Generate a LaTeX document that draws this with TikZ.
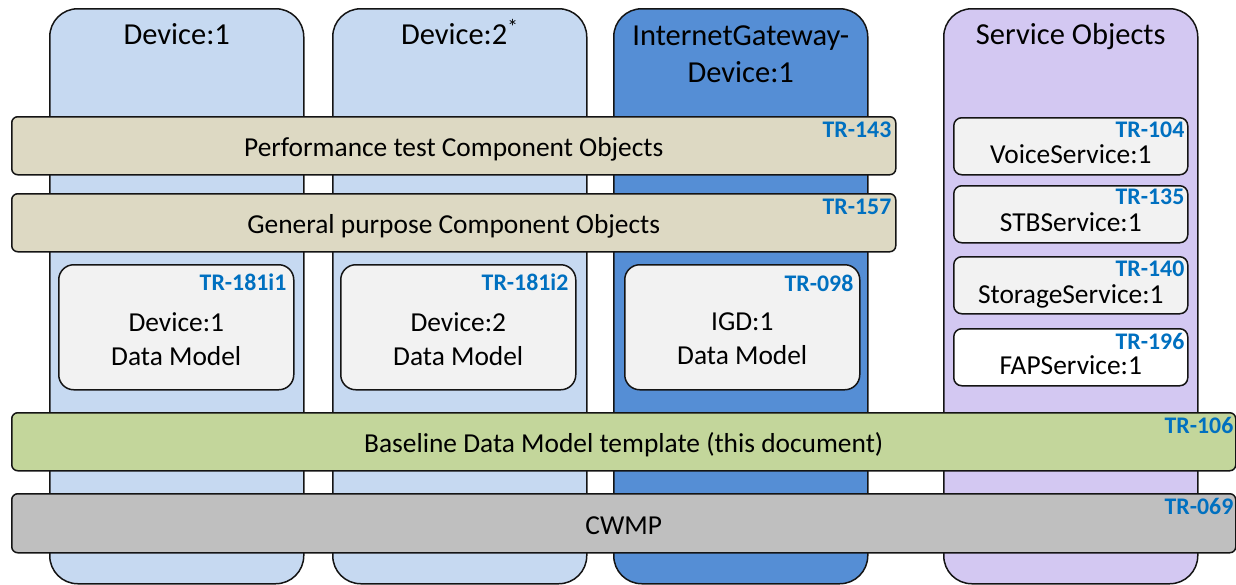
\documentclass[tikz,border=0pt]{standalone}
\usepackage{fontspec}
\setmainfont{Carlito}
\usetikzlibrary{positioning}

\definecolor{azulClaro}{HTML}{C6D9F1}
\definecolor{azulOscuro}{HTML}{558ED5}
\definecolor{lila}{HTML}{D3C8F2}
\definecolor{arena}{HTML}{DDD9C3}
\definecolor{verde}{HTML}{C3D69B}
\definecolor{grisMedio}{HTML}{BFBFBF}
\definecolor{grisClaro}{HTML}{F2F2F2}
\definecolor{azulTR}{HTML}{0070C0}
\definecolor{borde}{HTML}{141414}

\newcommand{\fuenteTitulo}{\fontsize{30.5}{37}\selectfont}
\newcommand{\fuenteCuerpo}{\fontsize{27.4}{34}\selectfont}
\newcommand{\fuenteTR}{\fontsize{23.8}{28}\selectfont\bfseries}

\tikzset{
    columna/.style={draw=borde, line width=1.5pt, rounded corners=28pt,
        anchor=north west, minimum width=254pt, minimum height=575pt},
    barra/.style={draw=borde, line width=1.5pt, rounded corners=6pt,
        anchor=north west, minimum height=58pt, inner sep=0pt,
        font=\fuenteCuerpo, text height=22pt, text depth=0pt},
    modelo/.style={draw=borde, line width=1.5pt, rounded corners=15pt, fill=grisClaro,
        anchor=north west, minimum width=235pt, minimum height=125pt},
    servicio/.style={draw=borde, line width=1.5pt, rounded corners=8pt,
        anchor=north west, minimum width=234pt, minimum height=57pt},
    titulo/.style={font=\fuenteTitulo, align=center, anchor=base, inner sep=0pt},
    nombre/.style={font=\fuenteCuerpo, align=center, anchor=base, inner sep=0pt},
    tr/.style={font=\fuenteTR, text=azulTR, anchor=base east, inner sep=0pt}
}

\begin{document}
\begin{tikzpicture}[x=1pt,y=-1pt]
        % Fija el tamaño del dibujo.
        \useasboundingbox (0,0) rectangle (1236,584);
    
        % Dibuja las columnas de fondo.
        \node[columna, fill=azulClaro] (dev1) at (49,8) {};
        \node[columna, fill=azulClaro] (dev2) at (332,8) {};
        \node[columna, fill=azulOscuro] (igd) at (613,8) {};
        \node[columna, fill=lila] (svc) at (943,8) {};
    
        % Escribe los títulos de las columnas (la base es la última línea).
        \node[titulo] (dev1tit) at ([yshift=-36pt]dev1.north) {Device:1};
        \node[titulo] (dev2tit) at ([yshift=-36pt]dev2.north) {Device:2\textsuperscript{*}};
        \node[titulo] (igdtit) at ([yshift=-74pt]igd.north) {InternetGateway-\\Device:1};
        \node[titulo] (svctit) at ([yshift=-36pt]svc.north) {Service Objects};
    
        % Dibuja las barras de objetos comunes.
        \node[barra, fill=arena, minimum width=884pt] (perf) at (11,116)
            {Performance test Component Objects};
        \node[barra, fill=arena, minimum width=884pt] (gen) at (11,193)
            {General purpose Component Objects};
        \node[tr] (tr143) at ([xshift=-5pt,yshift=-21pt]perf.north east) {TR-143};
        \node[tr] (tr157) at ([xshift=-5pt,yshift=-21pt]gen.north east) {TR-157};
    
        % Dibuja los modelos de datos de cada dispositivo.
        \node[modelo] (dev1dm) at (58,264) {};
        \node[modelo] (dev2dm) at (340,264) {};
        \node[modelo] (igddm) at (624,264) {};
        \node[nombre] (dev1nom) at ([yshift=-101pt]dev1dm.north) {Device:1\\Data Model};
        \node[nombre] (dev2nom) at ([yshift=-101pt]dev2dm.north) {Device:2\\Data Model};
        \node[nombre] (igdnom) at ([yshift=-100pt]igddm.north) {IGD:1\\Data Model};
        \node[tr] (tr181a) at ([xshift=-8pt,yshift=-26pt]dev1dm.north east) {TR-181i1};
        \node[tr] (tr181b) at ([xshift=-8pt,yshift=-26pt]dev2dm.north east) {TR-181i2};
        \node[tr] (tr098) at ([xshift=-7pt,yshift=-27pt]igddm.north east) {TR-098};
    
        % Dibuja los objetos de servicio.
        \node[servicio, fill=grisClaro] (voz) at (953,117) {};
        \node[servicio, fill=grisClaro] (stb) at (953,185) {};
        \node[servicio, fill=grisClaro] (alm) at (953,256) {};
        \node[servicio, fill=white] (fap) at (953,328) {};
        \node[nombre] (voznom) at ([yshift=-46pt]voz.north) {VoiceService:1};
        \node[nombre] (stbnom) at ([yshift=-46pt]stb.north) {STBService:1};
        \node[nombre] (almnom) at ([yshift=-47pt]alm.north) {StorageService:1};
        \node[nombre] (fapnom) at ([yshift=-46pt]fap.north) {FAPService:1};
        \node[tr] (tr104) at ([xshift=-4pt,yshift=-20pt]voz.north east) {TR-104};
        \node[tr] (tr135) at ([xshift=-4pt,yshift=-19pt]stb.north east) {TR-135};
        \node[tr] (tr140) at ([xshift=-4pt,yshift=-20pt]alm.north east) {TR-140};
        \node[tr] (tr196) at ([xshift=-4pt,yshift=-21pt]fap.north east) {TR-196};
    
        % Dibuja la plantilla base y CWMP.
        \node[barra, fill=verde, minimum width=1224pt] (base) at (11,412)
            {Baseline Data Model template (this document)};
        \node[barra, fill=grisMedio, minimum width=1224pt, minimum height=59pt] (cwmp) at (11,493)
            {CWMP};
        \node[tr] (tr106) at ([xshift=-3pt,yshift=-21pt]base.north east) {TR-106};
        \node[tr] (tr069) at ([xshift=-3pt,yshift=-21pt]cwmp.north east) {TR-069};
    \end{tikzpicture}
\end{document}
